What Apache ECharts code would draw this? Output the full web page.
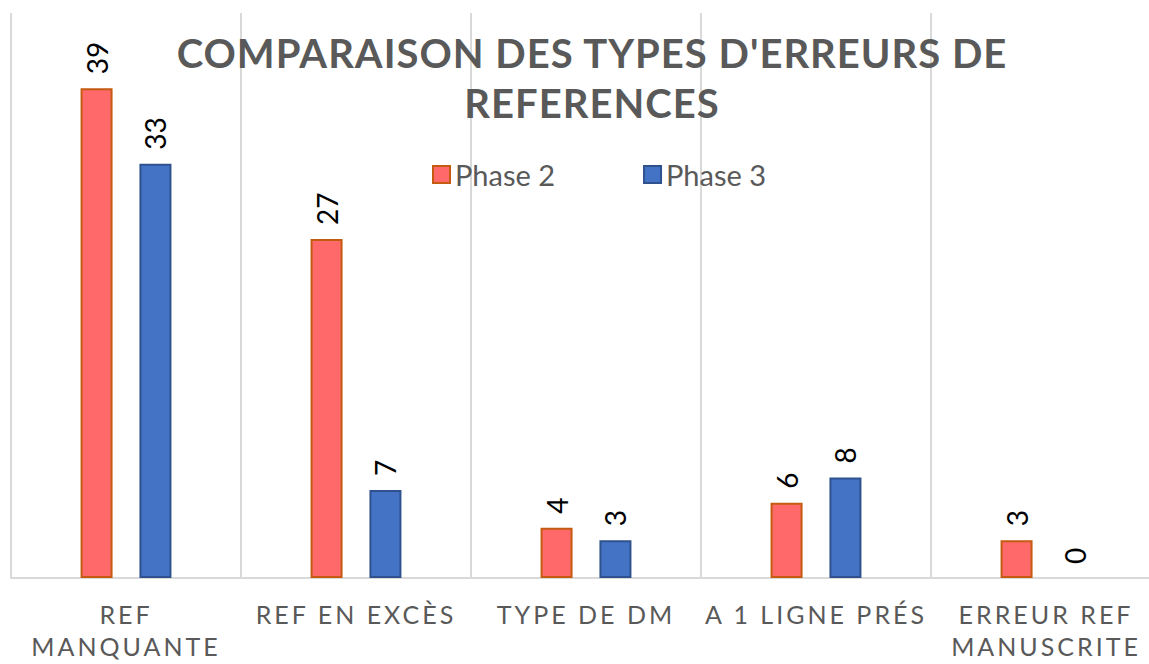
<!DOCTYPE html>
<html>
<head>
<meta charset="utf-8">
<script src="https://cdn.jsdelivr.net/npm/echarts@6/dist/echarts.min.js"></script>
<style>
  html, body { margin: 0; padding: 0; background: #fff; }
  #chart { width: 1149px; height: 664px; }
  /* Excel-like letter spacing on title and category labels */
  #chart text[style*="25px"] { letter-spacing: 3px; }
  #chart text[style*="40px"] { letter-spacing: 1px; }
</style>
</head>
<body>
<div id="chart"></div>
<script>
var categories = ['REF\nMANQUANTE', 'REF EN EXCÈS', 'TYPE DE DM', 'A 1 LIGNE PRÉS', 'ERREUR REF\nMANUSCRITE'];
var phase2 = [39, 27, 4, 6, 3];
var phase3 = [33, 7, 3, 8, 0];
var seriesNames = ['Phase 2', 'Phase 3'];

var chart = echarts.init(document.getElementById('chart'), null, { renderer: 'svg' });

var labelStyle = {
    show: true,
    position: 'top',
    rotate: 90,
    align: 'left',
    verticalAlign: 'middle',
    distance: 14,
    fontSize: 28,
    fontFamily: 'Lato',
    color: '#000'
};

// zero-height bars: no visible border
function barData(values) {
    return values.map(function (v) {
        return v === 0 ? { value: v, itemStyle: { borderWidth: 0 } } : v;
    });
}

var option = {
    animation: false,
    backgroundColor: '#fff',
    title: {
        text: "COMPARAISON DES TYPES D'ERREURS DE\nREFERENCES",
        left: 587,
        top: 23,
        textAlign: 'center',
        textStyle: {
            fontFamily: 'Lato',
            fontSize: 40,
            fontWeight: 'bold',
            color: '#595959',
            lineHeight: 50
        }
    },
    legend: {
        data: seriesNames,
        left: 427,
        top: 155,
        icon: 'rect',
        itemWidth: 17,
        itemHeight: 17,
        itemGap: 88,
        textStyle: {
            fontFamily: 'Lato',
            fontSize: 29,
            color: '#595959'
        }
    },
    grid: {
        left: 11,
        top: 13,
        width: 1150,
        bottom: 86,
        outerBoundsMode: 'none',
        containLabel: false
    },
    xAxis: {
        type: 'category',
        data: categories,
        axisTick: { show: false },
        axisLine: { lineStyle: { color: '#d9d9d9', width: 2 } },
        splitLine: { show: true, lineStyle: { color: '#d9d9d9', width: 2 } },
        axisLabel: {
            interval: 0,
            margin: 20,
            fontFamily: 'Lato',
            fontSize: 25,
            lineHeight: 32,
            color: '#595959'
        }
    },
    yAxis: {
        type: 'value',
        min: 0,
        max: 45,
        show: false,
        splitLine: { show: false }
    },
    series: [
        {
            name: seriesNames[0],
            type: 'bar',
            data: barData(phase2),
            barWidth: 32,
            barGap: '84%',
            itemStyle: { color: '#FF6969', borderColor: '#C55A11', borderWidth: 2 },
            label: labelStyle
        },
        {
            name: seriesNames[1],
            type: 'bar',
            data: barData(phase3),
            barWidth: 32,
            itemStyle: { color: '#4472C4', borderColor: '#2F528F', borderWidth: 2 },
            label: labelStyle
        }
    ]
};

chart.setOption(option);
</script>
</body>
</html>
